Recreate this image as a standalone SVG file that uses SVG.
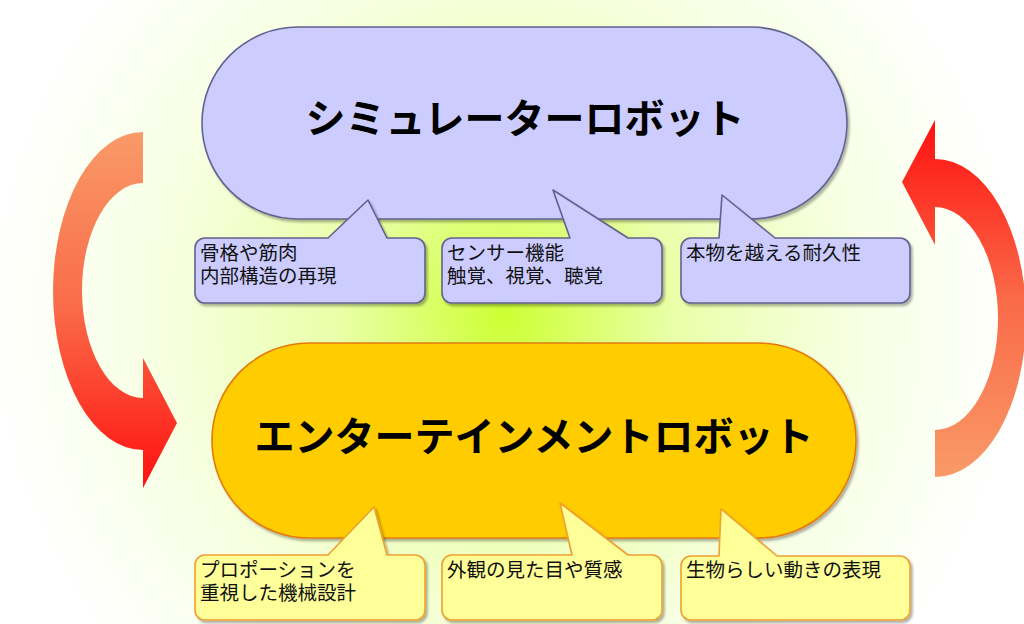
<svg xmlns="http://www.w3.org/2000/svg" width="1024" height="624" viewBox="0 0 1024 624">
<style>
.title{font-family:"Liberation Sans","Noto Sans CJK JP",sans-serif;font-weight:bold;font-size:40px;fill:#000;text-anchor:middle}
.lbl{font-family:"Liberation Sans","Noto Sans CJK JP",sans-serif;font-size:19.5px;fill:#111}
.sim{fill:#CCCCFF;stroke:#62628E;stroke-width:1.6}
.ent{fill:#FFCC00;stroke:#E27A10;stroke-width:1.6}
.cb{fill:#CCCCFF;stroke:#62628E;stroke-width:1.6;stroke-linejoin:round}
.cy{fill:#FFFF99;stroke:#EFA030;stroke-width:1.6;stroke-linejoin:round}
</style>
<defs>
<radialGradient id="bg" gradientUnits="userSpaceOnUse" cx="505" cy="315" r="560">
<stop offset="0" stop-color="#CCFF33"/>
<stop offset="0.1" stop-color="#D6FF5A"/>
<stop offset="0.3" stop-color="#E9FFA8"/>
<stop offset="0.62" stop-color="#F7FFE2"/>
<stop offset="0.92" stop-color="#FFFFFF"/>
</radialGradient>
<linearGradient id="gl" gradientUnits="userSpaceOnUse" x1="0" y1="132" x2="0" y2="488">
<stop offset="0" stop-color="#F99A68"/>
<stop offset="0.5" stop-color="#FA6A48"/>
<stop offset="1" stop-color="#FF1010"/>
</linearGradient>
<linearGradient id="gr" gradientUnits="userSpaceOnUse" x1="0" y1="120" x2="0" y2="477">
<stop offset="0" stop-color="#FF1010"/>
<stop offset="0.5" stop-color="#FA6A48"/>
<stop offset="1" stop-color="#F99A68"/>
</linearGradient>
<filter id="sh" x="-5%" y="-5%" width="115%" height="120%">
<feDropShadow dx="2" dy="2.5" stdDeviation="1.2" flood-color="#000" flood-opacity="0.3"/>
</filter>
</defs>
<rect x="0" y="0" width="1024" height="624" fill="url(#bg)"/>

<g id="connectors">
<path d="M143,132 A90,159 0 0 0 143,450 L143,488 L177,423 L143,358 L143,398 A61,107.5 0 0 1 143,183 Z" fill="url(#gl)"/>
<path d="M935,159 A91,159 0 0 1 935,477 L935,430 A63,111.5 0 0 0 935,207 L935,245 L902,182 L935,120 Z" fill="url(#gr)"/>
</g>

<g id="node-simulator">
<rect class="sim" x="202" y="27" width="645" height="192" rx="96" ry="96" filter="url(#sh)"/>
<text class="title" x="525" y="133">シミュレーターロボット</text>
</g>

<g id="node-entertainment">
<rect class="ent" x="212" y="343" width="644" height="195" rx="97" ry="97" filter="url(#sh)"/>
<text class="title" x="534" y="451">エンターテインメントロボット</text>
</g>

<g id="callout-sim-1">
<path class="cb" filter="url(#sh)" d="M205,238 L328,238 L368,200 L387,238 L415,238 A10,10 0 0 1 425,248 L425,293 A10,10 0 0 1 415,303 L205,303 A10,10 0 0 1 195,293 L195,248 A10,10 0 0 1 205,238 Z"/>
<text class="lbl"><tspan x="200" y="259.5">骨格や筋肉</tspan><tspan x="200" y="282.5">内部構造の再現</tspan></text>
</g>
<g id="callout-sim-2">
<path class="cb" filter="url(#sh)" d="M452,238 L570,238 L553,190 L628,238 L652,238 A10,10 0 0 1 662,248 L662,293 A10,10 0 0 1 652,303 L452,303 A10,10 0 0 1 442,293 L442,248 A10,10 0 0 1 452,238 Z"/>
<text class="lbl"><tspan x="447" y="259.5">センサー機能</tspan><tspan x="447" y="282.5">触覚、視覚、聴覚</tspan></text>
</g>
<g id="callout-sim-3">
<path class="cb" filter="url(#sh)" d="M691,238 L719,238 L722,195 L775,238 L900,238 A10,10 0 0 1 910,248 L910,293 A10,10 0 0 1 900,303 L691,303 A10,10 0 0 1 681,293 L681,248 A10,10 0 0 1 691,238 Z"/>
<text class="lbl" x="686" y="259.5">本物を越える耐久性</text>
</g>

<g id="callout-ent-1">
<path class="cy" filter="url(#sh)" d="M205,555 L328,555 L374,507 L387,555 L415,555 A10,10 0 0 1 425,565 L425,610 A10,10 0 0 1 415,620 L205,620 A10,10 0 0 1 195,610 L195,565 A10,10 0 0 1 205,555 Z"/>
<text class="lbl"><tspan x="200" y="577">プロポーションを</tspan><tspan x="200" y="600">重視した機械設計</tspan></text>
</g>
<g id="callout-ent-2">
<path class="cy" filter="url(#sh)" d="M452,555 L572,555 L560,503 L628,555 L652,555 A10,10 0 0 1 662,565 L662,610 A10,10 0 0 1 652,620 L452,620 A10,10 0 0 1 442,610 L442,565 A10,10 0 0 1 452,555 Z"/>
<text class="lbl" x="447" y="577">外観の見た目や質感</text>
</g>
<g id="callout-ent-3">
<path class="cy" filter="url(#sh)" d="M691,556 L719,556 L721,509 L777,556 L900,556 A10,10 0 0 1 910,566 L910,610 A10,10 0 0 1 900,620 L691,620 A10,10 0 0 1 681,610 L681,566 A10,10 0 0 1 691,556 Z"/>
<text class="lbl" x="686" y="577">生物らしい動きの表現</text>
</g>
</svg>
